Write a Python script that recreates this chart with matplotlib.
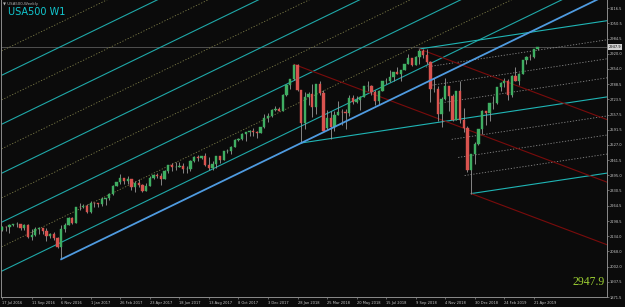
import matplotlib
matplotlib.use("Agg")
import matplotlib.pyplot as plt
import numpy as np

# USA500 weekly bars, first bar = week of 17 Jul 2016
opens = [2162, 2175, 2173, 2183, 2184, 2184, 2169, 2180, 2128, 2139, 2165, 2168, 2154, 2133, 2141, 2126,
         2085, 2164, 2182, 2213, 2192, 2260, 2258, 2264, 2239, 2277, 2275, 2271, 2295, 2297, 2316, 2351,
         2367, 2383, 2373, 2378, 2344, 2363, 2356, 2329, 2349, 2384, 2399, 2391, 2382, 2416, 2439, 2432,
         2433, 2438, 2423, 2425, 2459, 2473, 2472, 2477, 2441, 2426, 2443, 2477, 2461, 2500, 2502, 2519,
         2549, 2553, 2575, 2581, 2588, 2582, 2579, 2602, 2642, 2652, 2676, 2683, 2674, 2743, 2786, 2810,
         2873, 2762, 2620, 2732, 2747, 2691, 2787, 2752, 2598, 2641, 2604, 2656, 2670, 2669, 2663, 2728,
         2713, 2721, 2735, 2779, 2780, 2755, 2718, 2760, 2801, 2802, 2819, 2840, 2833, 2850, 2875, 2902,
         2872, 2905, 2930, 2914, 2886, 2767, 2768, 2659, 2723, 2781, 2736, 2633, 2760, 2633, 2600, 2417,
         2486, 2532, 2596, 2671, 2665, 2707, 2708, 2776, 2793, 2804, 2743, 2822, 2801, 2834, 2893, 2907,
         2905, 2940]
highs = [2176, 2178, 2185, 2188, 2193, 2187, 2184, 2187, 2164, 2175, 2175, 2169, 2169, 2148, 2152, 2132,
         2183, 2190, 2214, 2214, 2260, 2278, 2273, 2272, 2283, 2280, 2276, 2301, 2300, 2319, 2352, 2368,
         2401, 2385, 2391, 2382, 2371, 2378, 2359, 2362, 2392, 2400, 2404, 2406, 2419, 2440, 2447, 2454,
         2453, 2450, 2434, 2463, 2478, 2484, 2480, 2490, 2474, 2456, 2480, 2480, 2501, 2509, 2520, 2552,
         2557, 2576, 2582, 2589, 2598, 2586, 2605, 2658, 2665, 2680, 2695, 2692, 2744, 2787, 2811, 2874,
         2875, 2763, 2755, 2755, 2790, 2789, 2802, 2762, 2675, 2672, 2674, 2718, 2683, 2682, 2742, 2743,
         2739, 2736, 2779, 2801, 2784, 2764, 2762, 2804, 2816, 2848, 2841, 2863, 2851, 2877, 2917, 2903,
         2908, 2940, 2940, 2940, 2887, 2817, 2779, 2732, 2815, 2782, 2747, 2761, 2800, 2686, 2608, 2488,
         2538, 2597, 2675, 2672, 2708, 2738, 2776, 2798, 2816, 2812, 2830, 2861, 2836, 2893, 2910, 2917,
         2940, 2950]
lows = [2155, 2157, 2148, 2176, 2173, 2160, 2158, 2127, 2119, 2134, 2145, 2142, 2114, 2125, 2119, 2084,
        2034, 2151, 2180, 2187, 2189, 2247, 2253, 2234, 2234, 2258, 2258, 2263, 2267, 2290, 2313, 2348,
        2358, 2357, 2360, 2334, 2322, 2344, 2322, 2328, 2349, 2380, 2383, 2353, 2380, 2404, 2415, 2419,
        2430, 2405, 2407, 2416, 2454, 2459, 2464, 2437, 2418, 2417, 2429, 2447, 2461, 2493, 2488, 2517,
        2543, 2547, 2545, 2566, 2566, 2557, 2576, 2598, 2624, 2646, 2674, 2673, 2672, 2738, 2769, 2808,
        2759, 2535, 2594, 2699, 2648, 2659, 2741, 2585, 2593, 2553, 2586, 2655, 2612, 2595, 2652, 2701,
        2707, 2676, 2733, 2758, 2742, 2699, 2698, 2758, 2789, 2798, 2803, 2832, 2803, 2848, 2875, 2865,
        2872, 2874, 2903, 2874, 2710, 2755, 2628, 2604, 2722, 2671, 2631, 2632, 2621, 2583, 2409, 2317,
        2444, 2525, 2575, 2612, 2631, 2682, 2705, 2759, 2775, 2722, 2731, 2800, 2785, 2833, 2874, 2893,
        2899, 2934]
closes = [2175, 2174, 2183, 2184, 2184, 2169, 2180, 2128, 2139, 2165, 2168, 2154, 2133, 2141, 2126, 2085,
          2164, 2182, 2213, 2192, 2260, 2258, 2264, 2239, 2277, 2275, 2271, 2295, 2297, 2316, 2351, 2367,
          2383, 2373, 2378, 2344, 2363, 2356, 2329, 2349, 2384, 2399, 2391, 2382, 2416, 2439, 2432, 2433,
          2438, 2423, 2425, 2459, 2473, 2472, 2477, 2441, 2426, 2443, 2477, 2461, 2500, 2502, 2519, 2549,
          2553, 2575, 2581, 2588, 2582, 2579, 2602, 2642, 2652, 2676, 2683, 2674, 2743, 2786, 2810, 2873,
          2762, 2620, 2732, 2747, 2691, 2787, 2752, 2588, 2641, 2604, 2656, 2670, 2669, 2663, 2728, 2713,
          2721, 2735, 2779, 2780, 2755, 2718, 2760, 2801, 2802, 2819, 2840, 2833, 2850, 2875, 2902, 2872,
          2905, 2930, 2914, 2886, 2767, 2768, 2659, 2723, 2781, 2736, 2633, 2760, 2633, 2600, 2417, 2486,
          2532, 2596, 2671, 2665, 2707, 2708, 2776, 2793, 2804, 2743, 2822, 2801, 2834, 2893, 2907, 2905,
          2940, 2948]

date_labels = ["17 Jul 2016", "11 Sep 2016", "6 Nov 2016", "1 Jan 2017", "26 Feb 2017", "23 Apr 2017",
               "18 Jun 2017", "13 Aug 2017", "8 Oct 2017", "3 Dec 2017", "28 Jan 2018", "25 Mar 2018",
               "20 May 2018", "15 Jul 2018", "9 Sep 2018", "4 Nov 2018", "30 Dec 2018", "24 Feb 2019",
               "21 Apr 2019"]
price_ticks = [3116.5, 3050.5, 2984.5, 2920.0, 2854.0, 2788.5, 2723.5, 2657.5, 2591.5, 2527.0,
               2461.5, 2395.0, 2330.5, 2264.5, 2198.5, 2134.0, 2068.0, 2002.0, 1937.5, 1871.5]
last_price = 2947.9

# drawing objects, anchored at (bar, price)
trend_pts = [(16, 2034), (81, 2535)]
fork_teal = [(81, 2535), (113, 2940), (127, 2317)]
fork_red = [(79, 2874), (113, 2940), (127, 2317)]
fork_teal_levels = [-0.75, -0.5, -0.25, 0.25, 0.5, 0.75]
# channel lines parallel to the rising trendline: price offset above it, solid or dotted
channel_solid = [73, 284, 495, 706, 917]
channel_dotted = [178, 389, 600, 811, 1022]

BG = "#0b0b0b"
XMAX = 175

fig = plt.figure(figsize=(6.25, 3.07), dpi=100, facecolor=BG)
ax = fig.add_axes([1 / 625, 10 / 307, 606 / 625, 297 / 307], facecolor=BG)

x = np.arange(len(closes))
o, h, l, c = map(np.array, (opens, highs, lows, closes))
up = c >= o
ax.vlines(x, l, h, color="#9a9a9a", lw=0.6, zorder=3)
ax.bar(x[up], (c - o)[up], bottom=o[up], width=0.62, color="#3fae62", edgecolor="#3fae62", lw=0.3, zorder=4)
ax.bar(x[~up], (o - c)[~up], bottom=c[~up], width=0.62, color="#d9534f", edgecolor="#d9534f", lw=0.3, zorder=4)


def ray(p, q, **kw):
    slope = (q[1] - p[1]) / (q[0] - p[0])
    ax.plot([p[0], XMAX], [p[1], p[1] + slope * (XMAX - p[0])], **kw)


def pitchfork(p0, p1, p2, color, levels=(), lcolor="#8a8a8a"):
    mid = ((p1[0] + p2[0]) / 2, (p1[1] + p2[1]) / 2)
    slope = (mid[1] - p0[1]) / (mid[0] - p0[0])
    for p in (p0, p1, p2):
        ax.plot([p[0], XMAX], [p[1], p[1] + slope * (XMAX - p[0])], color=color, lw=0.8, zorder=2)
    for f in levels:
        # start on the P1-P2 segment, f=-1 -> P1, f=1 -> P2
        t = (f + 1) / 2
        s = (p1[0] + t * (p2[0] - p1[0]), p1[1] + t * (p2[1] - p1[1]))
        ax.plot([s[0], XMAX], [s[1], s[1] + slope * (XMAX - s[0])], color=lcolor, lw=0.6,
                ls=(0, (1.5, 2)), zorder=2)


slope_a = (trend_pts[1][1] - trend_pts[0][1]) / (trend_pts[1][0] - trend_pts[0][0])
xs = np.array([-5, XMAX])
for off in channel_solid:
    ax.plot(xs, trend_pts[0][1] + off + slope_a * (xs - trend_pts[0][0]), color="#1fa8a8", lw=0.8, zorder=2)
for off in channel_dotted:
    ax.plot(xs, trend_pts[0][1] + off + slope_a * (xs - trend_pts[0][0]), color="#7c7c48", lw=0.6,
            ls=(0, (1.5, 2)), zorder=2)

ray(trend_pts[0], trend_pts[1], color="#4f9be0", lw=1.3, zorder=5)
pitchfork(*fork_teal, color="#1fb5b5", levels=fork_teal_levels)
pitchfork(*fork_red, color="#7a0c0c")

ax.axhline(last_price, color="#5a5a5a", lw=0.6, zorder=1)

ax.set_xlim(-0.3, 163.8)
ax.set_ylim(1871.5, 3151.0)

ax.spines["top"].set_visible(False)
for s in ("left", "right", "bottom"):
    ax.spines[s].set_color("#8c8c8c")
    ax.spines[s].set_linewidth(0.7)

ax.yaxis.tick_right()
ax.set_yticks(price_ticks)
ax.set_yticklabels([f"{v:.1f}" for v in price_ticks])
ax.tick_params(axis="y", colors="#8c8c8c", labelcolor="#c8c8c8", labelsize=2.6, length=1.2, width=0.5, pad=0.8)
ax.set_xticks(np.arange(0, len(closes), 8)[:len(date_labels)])
ax.set_xticklabels(date_labels)
for t in ax.get_xticklabels():
    t.set_horizontalalignment("left")
ax.tick_params(axis="x", colors="#8c8c8c", labelcolor="#c8c8c8", labelsize=2.6, length=1.5, width=0.5, pad=1.2)

ax.annotate(f"{last_price:.1f}", xy=(1.0, last_price), xycoords=("axes fraction", "data"),
            xytext=(1.3, 0), textcoords="offset points", ha="left", va="center", fontsize=2.6,
            color="#000000", bbox=dict(boxstyle="square,pad=0.2", fc="#d0d0d0", ec="none"),
            annotation_clip=False, zorder=10)

ax.text(0.004, 0.993, "\u25bc USA500,Weekly", transform=ax.transAxes, fontsize=2.8, color="#b0b0b0",
        ha="left", va="top")
ax.text(0.012, 0.977, "USA500 W1", transform=ax.transAxes, fontsize=7, color="#12c8d0",
        ha="left", va="top")
ax.text(0.997, 0.03, f"{last_price:.1f}", transform=ax.transAxes, fontsize=8.5, color="#9acd32",
        family="Liberation Serif", ha="right", va="bottom")

fig.savefig("out.png", dpi=100, facecolor=BG)
